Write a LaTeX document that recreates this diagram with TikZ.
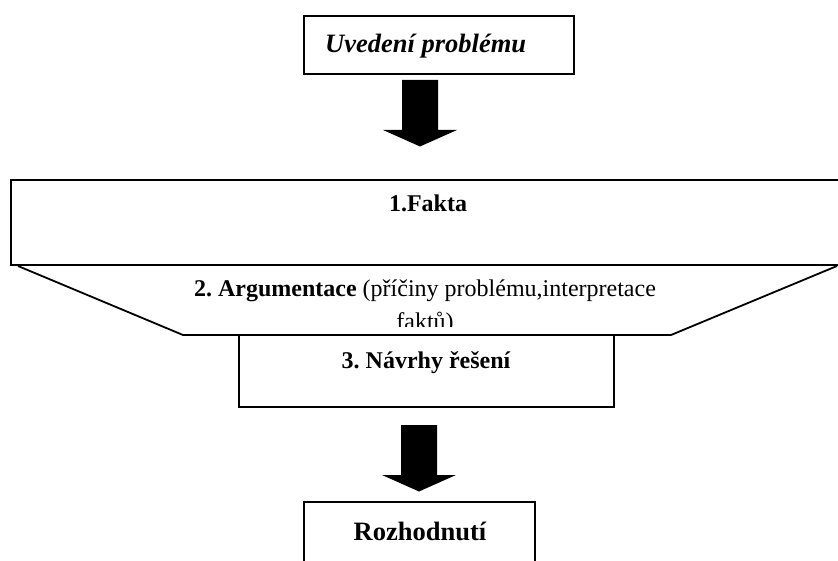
\documentclass[tikz,border=0pt]{standalone}
\usepackage{fontspec}
\setmainfont{Liberation Serif}
\usepackage{tikz}
\frenchspacing

\begin{document}
\begin{tikzpicture}[x=1pt,y=-1pt,
    boxline/.style={line width=2.2pt},
    thinline/.style={line width=1.8pt},
    bigtext/.style={inner sep=0pt,font=\fontsize{26.5}{30}\selectfont\bfseries},
    midtext/.style={inner sep=0pt,font=\fontsize{24}{28}\selectfont}]
    \useasboundingbox (0,0) rectangle (838,561);
    % --- block arrow shape ---
    \def\downA{ (-18,0) -- (18,0) -- (18,50) -- (37,50) -- (0,66.5) -- (-37,50) -- (-18,50) -- cycle};

    % --- TOP ---
    \draw[boxline] (304,16) rectangle (574,74);
    \node[bigtext, anchor=base west] (uvod) at (325,53) {\itshape Uvedení problému};
    \fill[black, shift={(420,80)}] \downA;

    % --- FAKTA + ARGUMENTACE ---
    \draw[boxline] (11,180) rectangle (850,265);
    \node[midtext, anchor=base] (fakta) at (428,212) {\bfseries 1.Fakta};
    \draw[thinline] (18,266) -- (183,335) -- (671,335) -- (837,266);
    \node[midtext, anchor=base] (argu) at (425,297) {\textbf{2. Argumentace} (příčiny problému,interpretace};
    \begin{scope}
        \clip (0,0) rectangle (838,327);
        \node[midtext, anchor=base] (argub) at (425,329.5) {faktů)};
    \end{scope}

    % --- NAVRHY ---
    \draw[thinline] (239,335) rectangle (614,407);
    \node[midtext, anchor=base] (navrhy) at (426,368) {\bfseries 3. Návrhy řešení};
    \fill[black, shift={(419,425)}] \downA;

    % --- ROZHODNUTI ---
    \draw[thinline] (304,502) rectangle (535,580);
    \node[bigtext, anchor=base] (rozhod) at (420,540) {Rozhodnutí};
\end{tikzpicture}
\end{document}
